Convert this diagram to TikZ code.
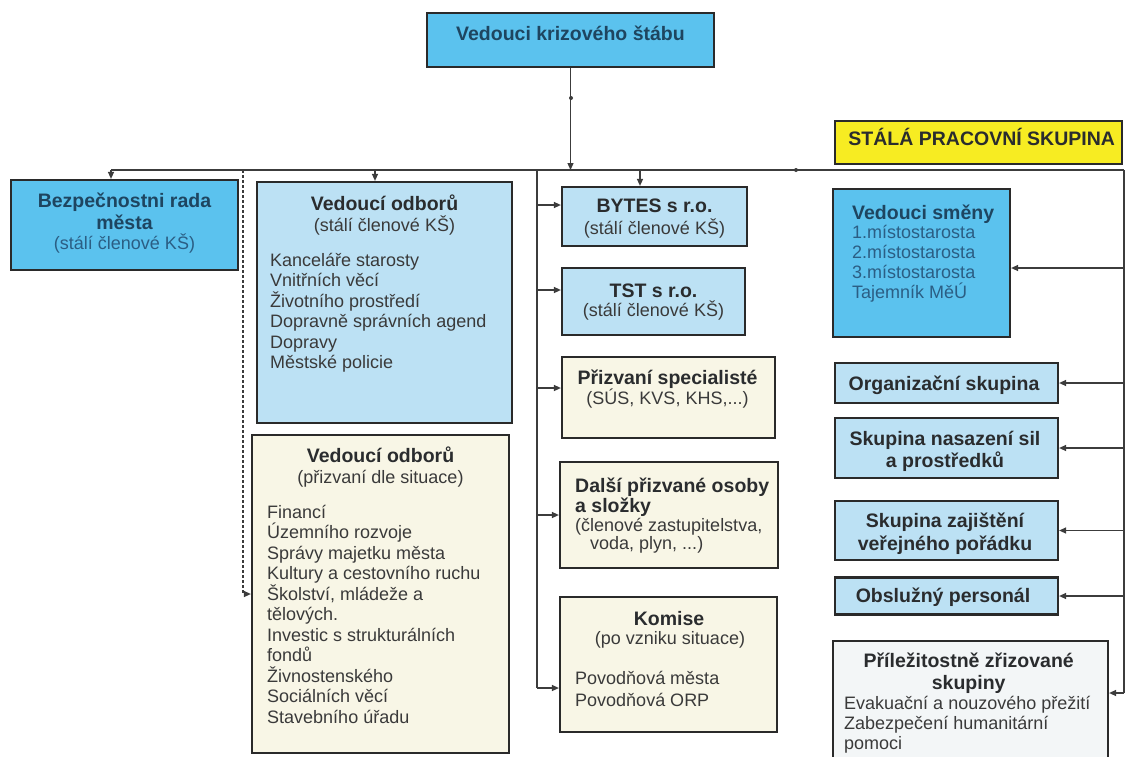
\documentclass[tikz,border=0pt]{standalone}
\usepackage{fontspec}
\setmainfont{Liberation Sans}
\usetikzlibrary{arrows.meta,calc}
\definecolor{bluestrong}{HTML}{5BC2EE}
\definecolor{bluelight}{HTML}{BCE1F4}
\definecolor{cream}{HTML}{F8F6E6}
\definecolor{palebox}{HTML}{F3F6F7}
\definecolor{yellowbox}{HTML}{F7EC22}
\definecolor{edge}{HTML}{2A2A2A}
\definecolor{wire}{HTML}{3C3C3C}
\definecolor{ink}{HTML}{2A2C2E}
\definecolor{inkgray}{HTML}{3A3A3A}
\definecolor{inkblue}{HTML}{1E4560}
\definecolor{inkblue2}{HTML}{2B5E84}
\tikzset{
  box/.style={draw=edge,line width=2.2pt,inner sep=0pt,rectangle},
  conn/.style={draw=wire,line width=1.3pt},
  arr/.style={conn,-{Triangle[length=7pt,width=6pt]}},
  hd/.style={font=\fontsize{19.5}{22}\selectfont\bfseries,inner sep=0pt,anchor=base,text=ink},
  bd/.style={font=\fontsize{18}{20.5}\selectfont,inner sep=0pt,anchor=base,text=inkgray},
  lw/.style={anchor=base west},
}
\newcommand\tx[5]{\node[#2] (#1) at (#3,#4) {#5};}
\begin{document}
\begin{tikzpicture}[x=1pt,y=-1pt]
\useasboundingbox (0,0) rectangle (1127,756);
\clip (0,0) rectangle (1127,756);
\fill[white] (0,0) rectangle (1127,756);

% boxes
\node[box,fill=bluestrong,minimum width=287pt,minimum height=54pt] (top) at (570.5,40) {};
\node[box,fill=yellowbox,minimum width=287pt,minimum height=43pt] (yel) at (978.5,142.5) {};
\node[box,fill=bluestrong,minimum width=227pt,minimum height=90pt] (bezp) at (124.5,225) {};
\node[box,fill=bluelight,minimum width=255pt,minimum height=241pt] (vo1) at (384.5,302.5) {};
\node[box,fill=cream,minimum width=257pt,minimum height=318pt] (vo2) at (380.5,594) {};
\node[box,fill=bluelight,minimum width=185pt,minimum height=59pt] (bytes) at (654.5,216.5) {};
\node[box,fill=bluelight,minimum width=183pt,minimum height=67pt] (tst) at (653.5,301.5) {};
\node[box,fill=cream,minimum width=213pt,minimum height=81pt] (prizv) at (668.5,397.5) {};
\node[box,fill=cream,minimum width=218pt,minimum height=106pt] (dalsi) at (669,515) {};
\node[box,fill=cream,minimum width=217pt,minimum height=135pt] (komise) at (668.5,664.5) {};
\node[box,fill=bluestrong,minimum width=177pt,minimum height=148pt] (smeny) at (921.5,263) {};
\node[box,fill=bluelight,minimum width=223pt,minimum height=40pt] (org) at (946.5,383) {};
\node[box,fill=bluelight,minimum width=223pt,minimum height=60pt] (nas) at (946.5,448) {};
\node[box,fill=bluelight,minimum width=223pt,minimum height=59pt] (zaj) at (946.5,530.5) {};
\node[box,fill=bluelight,minimum width=223pt,minimum height=37pt] (obs) at (946.5,596) {};
\node[box,fill=palebox,minimum width=275pt,minimum height=129pt] (pril) at (970.5,705.5) {};

% connectors
\coordinate (busL) at (111,170);
\coordinate (busR) at (1124,170);
\draw[conn] (busL) -- (busR);
\draw[arr] (top.south) -- (top.south |- busL);
\fill[wire] (571,98) circle (2pt);
\fill[wire] (796,170) circle (2pt);
\draw[arr] (busL) -- (busL |- bezp.north);
\coordinate (dsh) at (243,170);
\draw[arr,dash pattern=on 3pt off 2pt] (dsh) |- (vo2.west);
\coordinate (v1) at (375,170);
\draw[arr] (v1) -- (v1 |- vo1.north);
\coordinate (bt) at (640,170);
\draw[arr] (bt) -- (bt |- bytes.north);
\coordinate (mv) at (537,170);
\coordinate (mvb) at (537,688);
\draw[conn] (mv) -- (mvb);
\draw[arr] (mv |- 0,205) -- (bytes.west |- 0,205);
\draw[arr] (mv |- 0,290) -- (tst.west |- 0,290);
\draw[arr] (mv |- 0,388) -- (prizv.west |- 0,388);
\draw[arr] (mv |- 0,515) -- (dalsi.west |- 0,515);
\draw[arr] (mvb) -- (komise.west |- mvb);
\coordinate (rvb) at (1124,693);
\draw[conn] (busR) -- (rvb);
\draw[arr] (rvb) -- (pril.east |- rvb);
\draw[arr] (busR |- 0,268) -- (smeny.east |- 0,268);
\draw[arr] (org.east -| busR) -- (org.east);
\draw[arr] (nas.east -| busR) -- (nas.east);
\draw[arr] (zaj.east -| busR) -- (zaj.east);
\draw[arr] (obs.east -| busR) -- (obs.east);

% texts
\tx{ttop}{hd,text=inkblue}{570.5}{40}{Vedouci krizového štábu}
\tx{tyel}{hd}{981.7}{145}{STÁLÁ PRACOVNÍ SKUPINA}

\tx{tb1}{hd,text=inkblue}{124.5}{207}{Bezpečnostni rada}
\tx{tb2}{hd,text=inkblue}{124.5}{229}{města}
\tx{tb3}{bd,text=inkblue2}{124.5}{249}{(stálí členové KŠ)}

\tx{ta1}{hd}{384.5}{210}{Vedoucí odborů}
\tx{ta2}{bd}{384.5}{231}{(stálí členové KŠ)}
\tx{ta3}{bd,lw}{270}{266}{Kanceláře starosty}
\tx{ta4}{bd,lw}{270}{286}{Vnitřních věcí}
\tx{ta5}{bd,lw}{270}{307}{Životního prostředí}
\tx{ta6}{bd,lw}{270}{327}{Dopravně správních agend}
\tx{ta7}{bd,lw}{270}{348}{Dopravy}
\tx{ta8}{bd,lw}{270}{368}{Městské policie}

\tx{tc1}{hd}{380.5}{462}{Vedoucí odborů}
\tx{tc2}{bd}{380.5}{483}{(přizvaní dle situace)}
\tx{tc3}{bd,lw}{267}{518}{Financí}
\tx{tc4}{bd,lw}{267}{538.5}{Územního rozvoje}
\tx{tc5}{bd,lw}{267}{559}{Správy majetku města}
\tx{tc6}{bd,lw}{267}{579.5}{Kultury a cestovního ruchu}
\tx{tc7}{bd,lw}{267}{600}{Školství, mládeže a}
\tx{tc8}{bd,lw}{267}{620.5}{tělových.}
\tx{tc9}{bd,lw}{267}{641}{Investic s strukturálních}
\tx{tc10}{bd,lw}{267}{661.5}{fondů}
\tx{tc11}{bd,lw}{267}{682}{Živnostenského}
\tx{tc12}{bd,lw}{267}{702.5}{Sociálních věcí}
\tx{tc13}{bd,lw}{267}{723}{Stavebního úřadu}

\tx{td1}{hd}{654.5}{212}{BYTES s r.o.}
\tx{td2}{bd}{654.5}{234}{(stálí členové KŠ)}
\tx{te1}{hd}{653.5}{297}{TST s r.o.}
\tx{te2}{bd}{653.5}{316}{(stálí členové KŠ)}
\tx{tf1}{hd}{667.5}{384}{Přizvaní specialisté}
\tx{tf2}{bd}{667.5}{404}{(SÚS, KVS, KHS,...)}
\tx{tg1}{hd,lw}{575}{492}{Další přizvané osoby}
\tx{tg2}{hd,lw}{575}{512}{a složky}
\tx{tg3}{bd,lw}{575}{531}{(členové zastupitelstva,}
\tx{tg4}{bd,lw}{590}{549}{voda, plyn, ...)}
\tx{th1}{hd}{669}{625}{Komise}
\tx{th2}{bd}{670}{644}{(po vzniku situace)}
\tx{th3}{bd,lw}{575}{684}{Povodňová města}
\tx{th4}{bd,lw}{575}{706}{Povodňová ORP}

\tx{ti1}{hd,lw,text=inkblue}{852}{219}{Vedouci směny}
\tx{ti2}{bd,lw,text=inkblue2}{852}{238}{1.místostarosta}
\tx{ti3}{bd,lw,text=inkblue2}{852}{258}{2.místostarosta}
\tx{ti4}{bd,lw,text=inkblue2}{852}{278}{3.místostarosta}
\tx{ti5}{bd,lw,text=inkblue2}{852}{298}{Tajemník MěÚ}
\tx{tj1}{hd}{944}{390}{Organizační skupina}
\tx{tk1}{hd}{945}{445}{Skupina nasazení sil}
\tx{tk2}{hd}{945}{467}{a prostředků}
\tx{tl1}{hd}{945}{527}{Skupina zajištění}
\tx{tl2}{hd}{945}{550}{veřejného pořádku}
\tx{tm1}{hd}{943}{602}{Obslužný personál}
\tx{tn1}{hd}{968.7}{667}{Příležitostně zřizované}
\tx{tn2}{hd}{968.7}{689}{skupiny}
\tx{tn3}{bd,lw}{844}{709}{Evakuační a nouzového přežití}
\tx{tn4}{bd,lw}{844}{729}{Zabezpečení humanitární}
\tx{tn5}{bd,lw}{844}{749}{pomoci}
\end{tikzpicture}
\end{document}
